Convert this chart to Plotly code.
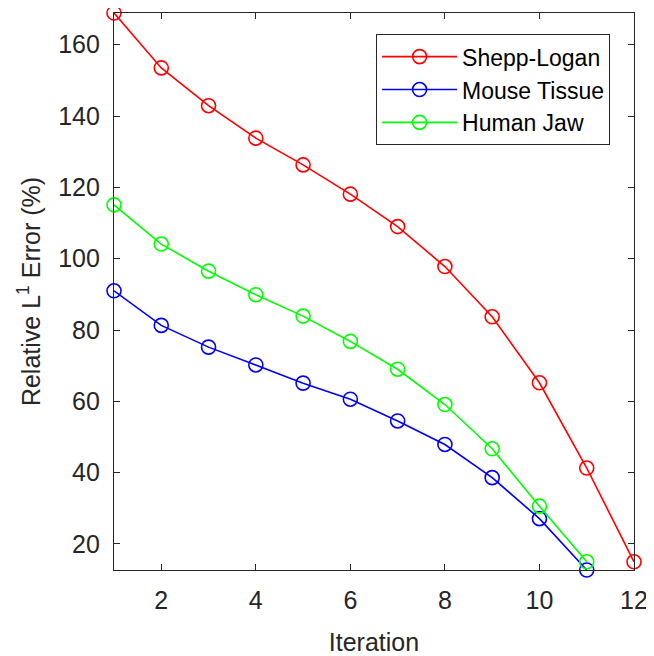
import plotly.graph_objects as go

iterations = list(range(1, 13))
shepp_logan = [168.9, 153.5, 142.9, 133.8, 126.3, 118.1, 109.0, 97.8, 83.7, 65.2, 41.3, 15.0]
mouse_tissue = [91.0, 81.3, 75.2, 70.2, 65.1, 60.6, 54.5, 47.9, 38.6, 27.1, 12.7]
human_jaw = [115.1, 104.1, 96.5, 89.9, 83.9, 76.8, 69.0, 59.1, 46.7, 30.6, 15.0]

series = [
    ("Shepp-Logan", shepp_logan, "#ff0000"),
    ("Mouse Tissue", mouse_tissue, "#0000ff"),
    ("Human Jaw", human_jaw, "#00ff00"),
]

FONT = "Liberation Sans, Arial, Helvetica, sans-serif"
AX = "#262626"

fig = go.Figure()
for name, vals, col in series:
    fig.add_trace(go.Scatter(
        x=iterations[:len(vals)], y=vals, name=name, mode="lines+markers",
        line=dict(color=col, width=1.6),
        marker=dict(symbol="circle-open", size=14, color=col, line=dict(width=1.6, color=col)),
        cliponaxis=False,
    ))

all_vals = shepp_logan + mouse_tissue + human_jaw
ymin, ymax = min(all_vals), max(all_vals)

# page body has an 8px default margin; size the figure to fill the rest
fig.update_layout(
    width=646, height=648,
    margin=dict(l=106, r=20, t=5, b=86),
    paper_bgcolor="white", plot_bgcolor="white",
    font=dict(family=FONT, size=25, color=AX),
    showlegend=True,
    legend=dict(
        x=0.954, y=0.962, xanchor="right", yanchor="top",
        bordercolor=AX, borderwidth=1, bgcolor="white",
        font=dict(size=23, color="#000000"),
        tracegroupgap=0, itemwidth=75,
    ),
    xaxis=dict(
        range=[1, 12], tickvals=[2, 4, 6, 8, 10, 12],
        ticks="inside", ticklen=6, tickcolor=AX, tickwidth=1,
        showline=True, linecolor=AX, linewidth=1.2, mirror="allticks",
        showgrid=False, zeroline=False, automargin=False,
        ticklabelstandoff=8,
        tickfont=dict(size=25, color=AX),
        title=dict(text="Iteration", font=dict(size=25, color=AX), standoff=25),
    ),
    yaxis=dict(
        range=[ymin, ymax], tickvals=[20, 40, 60, 80, 100, 120, 140, 160],
        ticks="inside", ticklen=6, tickcolor=AX, tickwidth=1,
        showline=True, linecolor=AX, linewidth=1.2, mirror="allticks",
        showgrid=False, zeroline=False, automargin=False,
        ticklabelstandoff=8,
        tickfont=dict(size=25, color=AX),
        title=dict(text="Relative L<sup>1</sup> Error (%)", font=dict(size=25, color=AX), standoff=10),
    ),
)

fig.write_html("out.html")
